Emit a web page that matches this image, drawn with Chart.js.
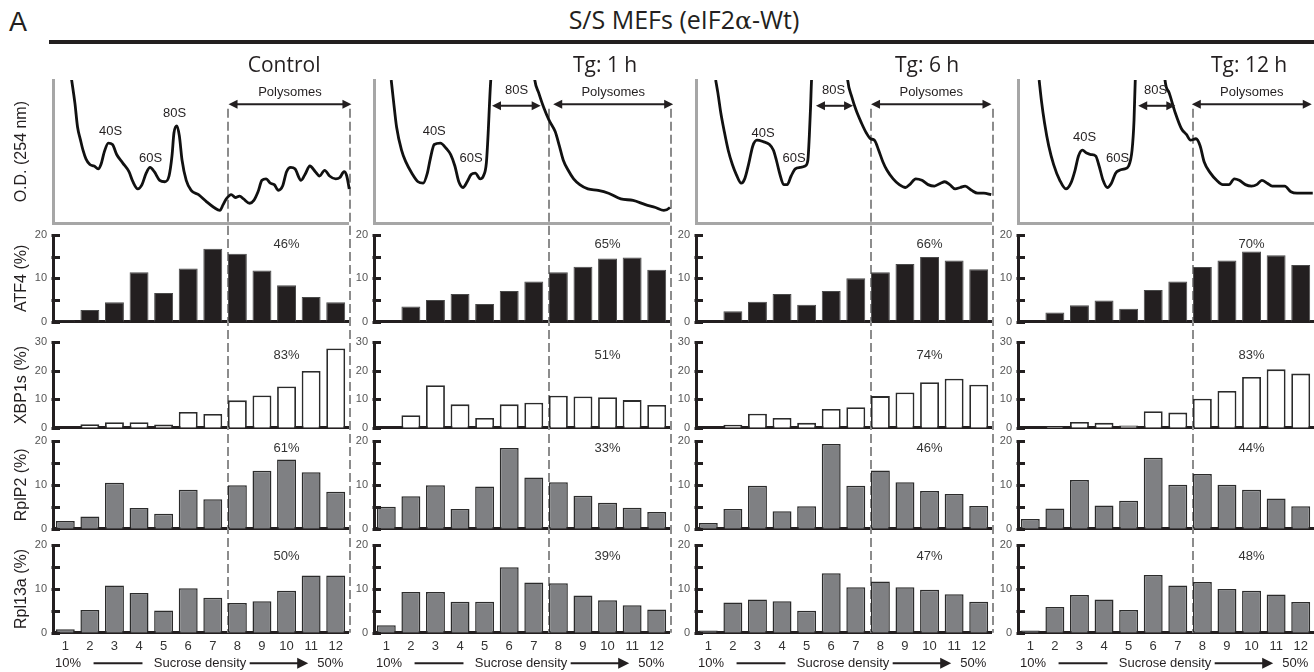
<!DOCTYPE html>
<html>
<head>
<meta charset="utf-8">
<script src="https://cdn.jsdelivr.net/npm/chart.js@4.4.0/dist/chart.umd.min.js"></script>
<style>
html, body { margin: 0; padding: 0; background: #fff; width: 1314px; height: 672px; overflow: hidden; }
#fig { position: relative; width: 1314px; height: 672px; }
.lbl { position: absolute; white-space: nowrap; color: #231f20; line-height: 1; }
</style>
</head>
<body>
<div id="fig">
    <div class="lbl" style="left:9px; top:9px; font-size:27px; font-family:'Liberation Sans', Arial, sans-serif;">A</div>
    <div class="lbl" style="left:684px; top:7px; transform:translateX(-50%); font-size:25px; font-family:'Open Sans', sans-serif;">S/S MEFs (eIF2<span style="font-family:'DejaVu Serif', serif;">α</span>-Wt)</div>
    <div style="position:absolute; left:49px; top:40px; width:1265px; height:4px; background:#231f20;"></div>
</div>
<script>
// fractions of the sucrose gradient
const fractions = ['1', '2', '3', '4', '5', '6', '7', '8', '9', '10', '11', '12'];
const columnTitles = ['Control', 'Tg: 1 h', 'Tg: 6 h', 'Tg: 12 h'];

// % of mRNA per fraction
const atf4Control = [0.3, 2.7, 4.5, 11.4, 6.6, 12.3, 16.8, 15.7, 11.8, 8.4, 5.7, 4.5];
const atf4Tg1 = [0, 3.5, 5.0, 6.4, 4.1, 7.1, 9.3, 11.4, 12.7, 14.6, 14.8, 12.0];
const atf4Tg6 = [0, 2.4, 4.6, 6.4, 3.9, 7.1, 10.0, 11.4, 13.3, 14.9, 14.1, 12.1];
const atf4Tg12 = [0, 2.1, 3.8, 4.9, 3.0, 7.3, 9.3, 12.6, 14.1, 16.2, 15.3, 13.1];

const xbp1sControl = [0, 1.2, 1.9, 1.9, 1.1, 5.5, 4.8, 9.6, 11.3, 14.5, 19.9, 27.8];
const xbp1sTg1 = [0, 4.4, 14.9, 8.2, 3.4, 8.2, 8.8, 11.2, 11.0, 10.7, 9.7, 8.0];
const xbp1sTg6 = [0, 1.0, 4.9, 3.4, 1.7, 6.6, 7.2, 11.1, 12.4, 16.0, 17.2, 15.1];
const xbp1sTg12 = [0, 0.5, 2.0, 1.7, 0.8, 5.8, 5.3, 10.2, 12.9, 17.8, 20.5, 19.0];

const rplp2Control = [1.75, 2.8, 10.5, 4.7, 3.4, 8.9, 6.7, 9.9, 13.2, 15.8, 12.9, 8.4];
const rplp2Tg1 = [5.0, 7.4, 9.9, 4.5, 9.6, 18.4, 11.7, 10.6, 7.5, 5.9, 4.8, 3.8];
const rplp2Tg6 = [1.3, 4.5, 9.8, 4.0, 5.1, 19.3, 9.8, 13.3, 10.6, 8.6, 7.9, 5.2];
const rplp2Tg12 = [2.2, 4.6, 11.1, 5.3, 6.4, 16.2, 10.0, 12.5, 10.0, 8.9, 6.9, 5.1];

const rpl13aControl = [0.8, 5.2, 10.8, 9.1, 5.1, 10.2, 8.0, 6.8, 7.2, 9.6, 13.1, 13.1];
const rpl13aTg1 = [1.7, 9.3, 9.3, 7.1, 7.1, 15.0, 11.5, 11.3, 8.5, 7.4, 6.3, 5.3];
const rpl13aTg6 = [0.5, 6.9, 7.6, 7.2, 5.0, 13.6, 10.4, 11.7, 10.4, 9.8, 8.8, 7.1];
const rpl13aTg12 = [0.5, 5.9, 8.6, 7.6, 5.2, 13.2, 10.8, 11.6, 10.0, 9.6, 8.75, 7.0];

// % in polysomes
const pctATF4 = [46, 65, 66, 70];
const pctXBP1s = [83, 51, 74, 83];
const pctRplP2 = [61, 33, 46, 44];
const pctRpl13a = [50, 39, 47, 48];

// O.D. 254 nm traces (x in fraction units, y in % of panel height)
const profileXControl = [0.25, 0.39, 0.5, 0.62, 0.72, 0.84, 1.0, 1.17, 1.34, 1.45, 1.59, 1.75, 1.92, 2.09, 2.34, 2.59, 2.75, 2.95, 3.12, 3.29, 3.45, 3.62, 3.84, 4.05, 4.22, 4.34, 4.42, 4.54, 4.64, 4.75, 4.92, 5.12, 5.42, 5.75, 6.05, 6.29, 6.42, 6.55, 6.75, 6.92, 7.09, 7.25, 7.5, 7.67, 7.84, 8.0, 8.17, 8.34, 8.5, 8.67, 8.84, 9.0, 9.17, 9.34, 9.59, 9.75, 9.95, 10.17, 10.34, 10.55, 10.75, 11.0, 11.17, 11.34, 11.45, 11.55];
const profileYControl = [101, 84, 67, 58, 51, 45, 41, 40, 38, 41, 50, 56, 55, 48, 42, 36, 29, 24, 27, 35, 39, 36, 30, 29, 33, 47, 63, 68, 61, 44, 30, 23, 20, 15, 11, 9, 13, 17, 20, 18, 19, 17, 14, 16, 22, 30, 31, 28, 27, 23, 26, 36, 39, 38, 30, 34, 40, 36, 33, 37, 33, 31, 32, 36, 33, 24];
const profileXTg1 = [0.2, 0.29, 0.42, 0.62, 0.79, 1.04, 1.29, 1.5, 1.67, 1.79, 1.95, 2.2, 2.45, 2.62, 2.79, 2.95, 3.12, 3.29, 3.45, 3.62, 3.82, 3.95, 4.07, 4.15, 4.2, 4.25, 5.12, 6.04, 6.2, 6.4, 6.62, 6.87, 7.04, 7.2, 7.4, 7.62, 7.87, 8.2, 8.62, 9.04, 9.54, 10.04, 10.54, 10.95, 11.29, 11.54, 11.67];
const profileYTg1 = [100, 86, 67, 51, 43, 35, 29, 28, 35, 45, 55, 56, 52, 48, 40, 29, 25, 29, 34, 35, 31, 33, 42, 65, 84, 100, 260, 100, 91, 81, 72, 64, 54, 44, 37, 31, 27, 24, 23, 21, 17, 16, 13, 11, 9, 11, 14];
const profileXTg6 = [0.3, 0.39, 0.51, 0.64, 0.81, 0.98, 1.14, 1.34, 1.48, 1.65, 1.81, 1.98, 2.23, 2.49, 2.65, 2.77, 2.9, 3.07, 3.21, 3.37, 3.54, 3.74, 3.94, 4.05, 4.11, 4.16, 4.2, 4.92, 5.67, 5.84, 6.01, 6.23, 6.43, 6.6, 6.76, 6.93, 7.1, 7.27, 7.52, 7.77, 8.02, 8.19, 8.44, 8.69, 8.94, 9.2, 9.45, 9.62, 9.82, 10.04, 10.25, 10.45, 10.71, 10.96, 11.21, 11.51];
const profileYTg6 = [100, 91, 77, 65, 51, 41, 34, 28, 31, 42, 54, 58, 57, 55, 51, 44, 35, 27, 27, 33, 38, 39, 40, 44, 61, 81, 100, 260, 100, 88, 79, 70, 63, 59, 58, 51, 43, 37, 31, 27, 25, 27, 31, 30, 27, 26, 28, 29, 27, 24, 25, 26, 23, 21, 21, 20];
const profileXTg12 = [0.36, 0.45, 0.58, 0.75, 0.95, 1.2, 1.45, 1.65, 1.82, 1.96, 2.12, 2.29, 2.46, 2.66, 2.8, 2.96, 3.13, 3.3, 3.47, 3.63, 3.84, 4.0, 4.14, 4.22, 4.27, 4.89, 5.48, 5.65, 5.9, 6.15, 6.35, 6.52, 6.74, 6.91, 7.07, 7.33, 7.58, 7.83, 8.08, 8.3, 8.5, 8.75, 9.0, 9.21, 9.42, 9.64, 9.84, 10.09, 10.35, 10.6, 10.85, 11.18, 11.49];
const profileYTg12 = [100, 86, 70, 54, 41, 30, 24, 28, 37, 47, 51, 49, 48, 47, 40, 30, 25, 28, 35, 37, 38, 40, 51, 72, 100, 260, 100, 91, 77, 66, 62, 58, 59, 54, 43, 35, 30, 27, 27, 31, 30, 27, 26, 27, 30, 28, 26, 26, 26, 22, 21, 21, 21];

const LBL = "'Liberation Sans', Arial, sans-serif";
const TTL = "'Open Sans', sans-serif";
const INK = '#231f20';
const PLOT_W = 295, PAD_R = 5;
const dashAt = [6.62, 11.6];

const columns = [
    { left: 0, axisW: 53, profX: profileXControl, profY: profileYControl, atf4: atf4Control, xbp1s: xbp1sControl, rplp2: rplp2Control, rpl13a: rpl13aControl },
    { left: 346, axisW: 28, profX: profileXTg1, profY: profileYTg1, atf4: atf4Tg1, xbp1s: xbp1sTg1, rplp2: rplp2Tg1, rpl13a: rpl13aTg1 },
    { left: 668, axisW: 28, profX: profileXTg6, profY: profileYTg6, atf4: atf4Tg6, xbp1s: xbp1sTg6, rplp2: rplp2Tg6, rpl13a: rpl13aTg6 },
    { left: 990, axisW: 28, profX: profileXTg12, profY: profileYTg12, atf4: atf4Tg12, xbp1s: xbp1sTg12, rplp2: rplp2Tg12, rpl13a: rpl13aTg12 }
];

// label placement on the profiles (fraction units / panel %)
const profileMarks = [
    { peaks: [['40S', 1.84, 64], ['60S', 3.47, 45], ['80S', 4.45, 77]], ribo: null, poly: [6.64, 11.64] },
    { peaks: [['40S', 1.95, 64], ['60S', 3.45, 45], ['80S', 5.3, 93]], ribo: [4.3, 6.28], poly: [6.79, 11.67] },
    { peaks: [['40S', 2.23, 63], ['60S', 3.49, 45], ['80S', 5.1, 93]], ribo: [4.38, 5.89], poly: [6.62, 11.52] },
    { peaks: [['40S', 2.21, 60], ['60S', 3.55, 45], ['80S', 5.1, 93]], ribo: [4.39, 5.9], poly: [6.57, 11.45] }
];

const barRows = [
    { key: 'atf4', title: 'ATF4 (%)', max: 20, step: 5, pct: pctATF4, top: 226, height: 104, padTop: 9, padBottom: 8.3, pctDy: 9, fill: INK, edge: '#4a4a4a', edgeW: 1 },
    { key: 'xbp1s', title: 'XBP1s (%)', max: 30, step: 10, pct: pctXBP1s, top: 330, height: 104, padTop: 12.3, padBottom: 6.3, pctDy: 12.7, fill: '#ffffff', edge: '#2b2b2b', edgeW: 1.8 },
    { key: 'rplp2', title: 'RplP2 (%)', max: 20, step: 5, pct: pctRplP2, top: 434, height: 104, padTop: 7, padBottom: 9.3, pctDy: 7.3, fill: '#7f8083', edge: '#2b2b2b', edgeW: 1.5 },
    { key: 'rpl13a', title: 'Rpl13a (%)', max: 20, step: 5, pct: pctRpl13a, top: 538, height: 134, padTop: 7.3, padBottom: 0, pctDy: 10.7, fill: '#7f8083', edge: '#2b2b2b', edgeW: 1.5, showX: true }
];

const fig = document.getElementById('fig');

function makeCanvas(left, top, w, h) {
    const c = document.createElement('canvas');
    c.width = w;
    c.height = h;
    c.style.cssText = 'position:absolute;left:' + left + 'px;top:' + top + 'px;width:' + w + 'px;height:' + h + 'px;';
    fig.appendChild(c);
    return c;
}

// keep the plot box exactly where the layout padding puts it
function fixWidth(w) {
    return s => { s.width = w; s.paddingTop = 0; s.paddingBottom = 0; };
}
function fixHeight(h) {
    return s => { s.height = h; s.paddingLeft = 0; s.paddingRight = 0; };
}

function dashPlugin(fromV, stopAtAxis) {
    return {
        id: 'fractionDash',
        beforeDatasetsDraw(chart) {
            const ctx = chart.ctx, xs = chart.scales.x;
            const y0 = fromV == null ? 0 : chart.scales.y.getPixelForValue(fromV);
            const y1 = stopAtAxis ? chart.chartArea.bottom : chart.height;
            ctx.save();
            ctx.strokeStyle = '#8c8c8c';
            ctx.lineWidth = 2;
            ctx.setLineDash([9, 4]);
            dashAt.forEach(v => {
                const x = Math.round(xs.getPixelForValue(v));
                ctx.beginPath();
                ctx.moveTo(x, y0);
                ctx.lineTo(x, y1);
                ctx.stroke();
            });
            ctx.restore();
        }
    };
}

// tick marks pointing into the plot, as in the original
const inwardTicks = {
    id: 'inwardTicks',
    afterDraw(chart) {
        const ctx = chart.ctx, ys = chart.scales.y;
        const x0 = chart.chartArea.left;
        ctx.save();
        ctx.strokeStyle = INK;
        ctx.lineWidth = 3;
        ys.ticks.forEach(t => {
            const y = Math.round(ys.getPixelForValue(t.value)) + 0.5;
            ctx.beginPath();
            ctx.moveTo(x0 - 1.5, y);
            ctx.lineTo(x0 + 7, y);
            ctx.stroke();
        });
        ctx.restore();
    }
};

function arrow(ctx, x1, x2, y) {
    const h = 9, w = 4.5;
    ctx.beginPath();
    ctx.moveTo(x1 + h - 1, y);
    ctx.lineTo(x2 - h + 1, y);
    ctx.stroke();
    ctx.beginPath();
    ctx.moveTo(x1, y); ctx.lineTo(x1 + h, y - w); ctx.lineTo(x1 + h, y + w); ctx.closePath();
    ctx.moveTo(x2, y); ctx.lineTo(x2 - h, y - w); ctx.lineTo(x2 - h, y + w); ctx.closePath();
    ctx.fill();
}

function profileLabels(marks, title) {
    return {
        id: 'profileLabels',
        afterDatasetsDraw(chart) {
            const ctx = chart.ctx, xs = chart.scales.x, ys = chart.scales.y;
            ctx.save();
            ctx.fillStyle = INK;
            ctx.strokeStyle = INK;
            ctx.lineWidth = 2;
            ctx.textAlign = 'center';
            ctx.textBaseline = 'middle';
            ctx.font = '13px ' + LBL;
            marks.peaks.forEach(p => ctx.fillText(p[0], xs.getPixelForValue(p[1]), ys.getPixelForValue(p[2])));
            ctx.fillText('Polysomes', xs.getPixelForValue((marks.poly[0] + marks.poly[1]) / 2), ys.getPixelForValue(91));
            arrow(ctx, xs.getPixelForValue(marks.poly[0]), xs.getPixelForValue(marks.poly[1]), ys.getPixelForValue(83));
            if (marks.ribo) {
                arrow(ctx, xs.getPixelForValue(marks.ribo[0]), xs.getPixelForValue(marks.ribo[1]), ys.getPixelForValue(82));
            }
            ctx.font = '21px ' + TTL;
            ctx.textBaseline = 'alphabetic';
            ctx.fillText(title, xs.getPixelForValue(8.9), 26);
            ctx.restore();
        }
    };
}

function pctPlugin(text, dy) {
    return {
        id: 'pctLabel',
        afterDatasetsDraw(chart) {
            const ctx = chart.ctx;
            ctx.save();
            ctx.font = '13px ' + LBL;
            ctx.fillStyle = '#333';
            ctx.textAlign = 'center';
            ctx.textBaseline = 'middle';
            ctx.fillText(text, chart.scales.x.getPixelForValue(9.0), chart.chartArea.top + dy);
            ctx.restore();
        }
    };
}

const sucrosePlugin = {
    id: 'sucrose',
    afterDraw(chart) {
        const ctx = chart.ctx, xs = chart.scales.x;
        const y = chart.chartArea.bottom + 30.5;
        ctx.save();
        ctx.fillStyle = INK;
        ctx.strokeStyle = INK;
        ctx.font = '13px ' + LBL;
        ctx.textAlign = 'center';
        ctx.textBaseline = 'middle';
        ctx.fillText('10%', xs.getPixelForValue(0.11), y);
        ctx.fillText('Sucrose density', xs.getPixelForValue(5.48), y);
        ctx.fillText('50%', xs.getPixelForValue(10.78), y);
        ctx.lineWidth = 2;
        ctx.beginPath();
        ctx.moveTo(xs.getPixelForValue(1.15), y);
        ctx.lineTo(xs.getPixelForValue(3.14), y);
        ctx.moveTo(xs.getPixelForValue(7.5), y);
        ctx.lineTo(xs.getPixelForValue(9.5), y);
        ctx.stroke();
        const hx = xs.getPixelForValue(9.88);
        ctx.beginPath();
        ctx.moveTo(hx, y); ctx.lineTo(hx - 11, y - 5.5); ctx.lineTo(hx - 11, y + 5.5); ctx.closePath();
        ctx.fill();
        ctx.restore();
    }
};

function setupProfile(col, idx) {
    const first = idx === 0;
    const w = col.axisW + PLOT_W + PAD_R;
    const cv = makeCanvas(col.left, 46, w, 180);
    return new Chart(cv, {
        type: 'line',
        data: {
            datasets: [{
                data: col.profX.map((x, i) => ({ x: x, y: col.profY[i] })),
                borderColor: '#111',
                borderWidth: 2.8,
                pointRadius: 0,
                tension: 0.4,
                cubicInterpolationMode: 'monotone',
                clip: { left: 5, top: 0, right: 8, bottom: 5 }
            }]
        },
        options: {
            responsive: false,
            animation: false,
            events: [],
            layout: { padding: { top: 34, bottom: 2.7, left: 0, right: PAD_R } },
            plugins: { legend: { display: false }, tooltip: { enabled: false } },
            scales: {
                x: {
                    type: 'linear', min: -0.5, max: 11.5,
                    grid: { display: false, drawTicks: false },
                    ticks: { display: false },
                    border: { color: '#a6a6a6', width: 3 },
                    afterFit: fixHeight(0)
                },
                y: {
                    min: 0, max: 100,
                    grid: { display: false, drawTicks: false },
                    ticks: { display: false },
                    border: { color: '#a6a6a6', width: 3 },
                    title: { display: first, text: 'O.D. (254 nm)', color: INK, font: { family: LBL, size: 16 }, padding: { top: 12, bottom: 0 } },
                    afterFit: fixWidth(col.axisW)
                }
            }
        },
        plugins: [dashPlugin(80, false), profileLabels(profileMarks[idx], columnTitles[idx])]
    });
}

function setupBars(col, idx, row) {
    const first = idx === 0;
    const w = col.axisW + PLOT_W + PAD_R;
    const cv = makeCanvas(col.left, row.top, w, row.height);
    const plugins = [dashPlugin(null, !!row.showX), pctPlugin(row.pct[idx] + '%', row.pctDy), inwardTicks];
    if (row.showX) plugins.push(sucrosePlugin);
    return new Chart(cv, {
        type: 'bar',
        data: {
            labels: fractions,
            datasets: [{
                data: col[row.key],
                backgroundColor: row.fill,
                borderColor: row.edge,
                borderWidth: row.edgeW,
                barPercentage: 0.77,
                categoryPercentage: 1
            }]
        },
        options: {
            responsive: false,
            animation: false,
            events: [],
            layout: { padding: { top: row.padTop, bottom: row.padBottom, left: 0, right: PAD_R } },
            plugins: { legend: { display: false }, tooltip: { enabled: false } },
            scales: {
                x: {
                    grid: { display: false, drawTicks: false },
                    border: { display: true, color: INK, width: 3 },
                    ticks: { display: !!row.showX, color: '#333', font: { family: LBL, size: 13 }, padding: 6, maxRotation: 0, autoSkip: false },
                    afterFit: fixHeight(row.showX ? 39.3 : 0)
                },
                y: {
                    min: 0, max: row.max,
                    ticks: {
                        stepSize: row.step, color: '#555', padding: 6,
                        font: { family: LBL, size: 11 },
                        callback: v => (v % 10 === 0 ? v : '')
                    },
                    grid: { display: false, drawTicks: false },
                    border: { display: true, color: INK, width: 3 },
                    title: { display: first, text: row.title, color: INK, font: { family: LBL, size: 16 }, padding: { top: 12, bottom: 0 } },
                    afterFit: fixWidth(col.axisW)
                }
            }
        },
        plugins: plugins
    });
}

columns.forEach((col, idx) => {
    setupProfile(col, idx);
    barRows.forEach(row => setupBars(col, idx, row));
});
</script>
</body>
</html>
